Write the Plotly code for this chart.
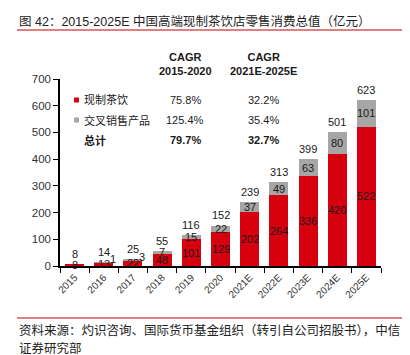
import plotly.graph_objects as go

years = ["2015", "2016", "2017", "2018", "2019", "2020",
         "2021E", "2022E", "2023E", "2024E", "2025E"]
tea = [8, 13, 22, 48, 101, 129, 202, 264, 336, 420, 522]
cross = [0, 1, 3, 7, 15, 22, 37, 49, 63, 80, 101]
totals = [8, 14, 25, 55, 116, 152, 239, 313, 399, 501, 623]

cagr_headers = ["CAGR<br>2015-2020", "CAGR<br>2021E-2025E"]
row_names = ["现制茶饮", "交叉销售产品", "总计"]
cagr_1520 = ["75.8%", "125.4%", "79.7%"]
cagr_2125 = ["32.2%", "35.4%", "32.7%"]

title_text = "图 42：2015-2025E 中国高端现制茶饮店零售消费总值（亿元）"
source_1 = "资料来源：灼识咨询、国际货币基金组织（转引自公司招股书），中信"
source_2 = "证券研究部"

RED = "#D7000F"
GRAY = "#A6A6A6"
TXT = "#1a1a1a"
FONT = "Liberation Sans, Noto Sans CJK SC, sans-serif"

W, H = 410, 355
L, R, T, B = 52, 373, 71, 258  # plot area in px


def px(x):
    return (x - L) / (R - L)


def py(y):
    return (B - y) / (B - T)


fig = go.Figure()
fig.add_bar(x=years, y=tea, marker_color=RED, marker_line_width=0, name="现制茶饮")
fig.add_bar(x=years, y=cross, base=tea, marker_color=GRAY, marker_line_width=0,
            name="交叉销售产品")

ann = []
for i, (t, c, tot) in enumerate(zip(tea, cross, totals)):
    ann.append(dict(x=i, y=t / 2, text=str(t), showarrow=False,
                    font=dict(size=11, color=TXT, family=FONT), yanchor="middle"))
    if c > 0:
        small = c < 5
        ann.append(dict(x=i, y=t + c / 2, text=str(c), showarrow=False,
                        xshift=9 if small else 0, yshift=3 if small else 0,
                        font=dict(size=11, color=TXT, family=FONT), yanchor="middle"))
    ann.append(dict(x=i, y=tot, text=str(tot), showarrow=False, yanchor="bottom",
                    yshift=2, font=dict(size=11, color=TXT, family=FONT)))

# title and source
ann.append(dict(xref="paper", yref="paper", x=px(9), y=py(14), xanchor="left",
                yanchor="middle", text=title_text, showarrow=False,
                font=dict(size=12.5, color="#222", family=FONT)))
ann.append(dict(xref="paper", yref="paper", x=px(9), y=py(322), xanchor="left",
                yanchor="middle", text=source_1, showarrow=False,
                font=dict(size=12.5, color="#222", family=FONT)))
ann.append(dict(xref="paper", yref="paper", x=px(9), y=py(340), xanchor="left",
                yanchor="middle", text=source_2, showarrow=False,
                font=dict(size=12.5, color="#222", family=FONT)))

# CAGR table
col_x = [177, 255]
for cx, hdr in zip(col_x, cagr_headers):
    ann.append(dict(xref="paper", yref="paper", x=px(cx), y=py(56), xanchor="center",
                    yanchor="middle", text="<b>" + hdr + "</b>", showarrow=False,
                    font=dict(size=11, color=TXT, family=FONT)))
row_y = [92, 112, 132]
for i, (nm, a, b) in enumerate(zip(row_names, cagr_1520, cagr_2125)):
    bold = i == 2
    fmt = (lambda s: "<b>" + s + "</b>") if bold else (lambda s: s)
    ann.append(dict(xref="paper", yref="paper", x=px(74), y=py(row_y[i]), xanchor="left",
                    yanchor="middle", text=fmt(nm), showarrow=False,
                    font=dict(size=11, color=TXT, family=FONT)))
    ann.append(dict(xref="paper", yref="paper", x=px(col_x[0]), y=py(row_y[i]),
                    xanchor="center", yanchor="middle", text=fmt(a), showarrow=False,
                    font=dict(size=11, color=TXT, family=FONT)))
    ann.append(dict(xref="paper", yref="paper", x=px(col_x[1]), y=py(row_y[i]),
                    xanchor="center", yanchor="middle", text=fmt(b), showarrow=False,
                    font=dict(size=11, color=TXT, family=FONT)))

shapes = [
    dict(type="line", xref="paper", yref="paper", x0=px(9), x1=px(395),
         y0=py(22), y1=py(22), line=dict(color="#C00000", width=1.2)),
    dict(type="line", xref="paper", yref="paper", x0=px(9), x1=px(395),
         y0=py(310), y1=py(310), line=dict(color="#C00000", width=1.2)),
    dict(type="rect", xref="paper", yref="paper", x0=px(66), x1=px(71),
         y0=py(94.5), y1=py(89.5), fillcolor=RED, line_width=0),
    dict(type="rect", xref="paper", yref="paper", x0=px(66), x1=px(71),
         y0=py(114.5), y1=py(109.5), fillcolor=GRAY, line_width=0),
]

fig.update_layout(
    width=W, height=H, barmode="stack", bargap=0.35, showlegend=False,
    margin=dict(l=L, r=W - R, t=T, b=H - B, pad=0),
    paper_bgcolor="white", plot_bgcolor="white",
    font=dict(family=FONT, color=TXT),
    annotations=ann, shapes=shapes,
)
fig.update_xaxes(type="category", range=[-0.5, len(years) - 0.5], showline=True,
                 linecolor="black", linewidth=1.5,
                 ticks="outside", tickson="boundaries", ticklen=5, tickcolor="black",
                 tickangle=-45, tickfont=dict(size=10, color="#333", family=FONT),
                 showgrid=False)
fig.update_yaxes(range=[0, 700], dtick=100, showline=True, linecolor="black", linewidth=1.5,
                 ticks="outside", ticklen=5, tickcolor="black", showgrid=False,
                 zeroline=False, tickfont=dict(size=11.5, color="#333", family=FONT))

fig.write_html("out.html")
